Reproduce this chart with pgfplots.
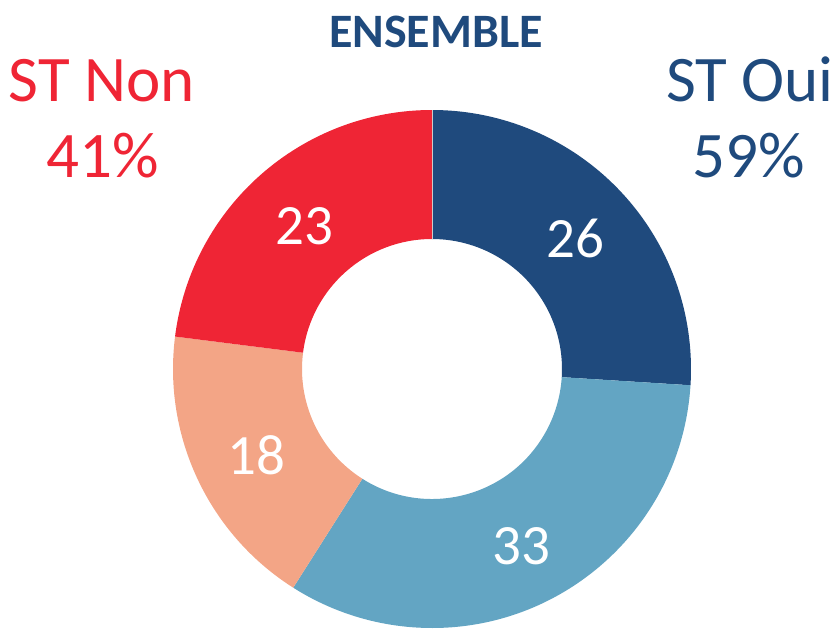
\documentclass[border=0pt]{standalone}
\usepackage{fontspec}
\setmainfont{Carlito}
\usepackage{pgfplots}
\pgfplotsset{compat=1.18}

\definecolor{dblue}{RGB}{31,74,125}
\definecolor{lblue}{RGB}{99,165,195}
\definecolor{salmon}{RGB}{243,165,134}
\definecolor{stred}{RGB}{239,37,53}

% centre (432,259), outer radius 259, inner 130, all in pixel units
% #1 share before this slice, #2 share of the slice, #3 colour
\newcommand{\sector}[3]{%
  \fill[#3] (axis cs:{432+259*cos(90-3.6*#1)},{259+259*sin(90-3.6*#1)})
    arc[start angle={90-3.6*#1}, end angle={90-3.6*(#1+#2)}, radius=259]
    -- (axis cs:{432+130*cos(90-3.6*(#1+#2))},{259+130*sin(90-3.6*(#1+#2))})
    arc[start angle={90-3.6*(#1+#2)}, end angle={90-3.6*#1}, radius=130]
    -- cycle;
  \node[text=white, font=\fontsize{28.5}{30}\selectfont]
    at (axis cs:{433+195*cos(90-3.6*(#1+#2/2))},{256+195*sin(90-3.6*(#1+#2/2))}) {#2};
}

\begin{document}
\begin{tikzpicture}
\begin{axis}[
    name=ax,
    width=417pt, height=314pt,
    scale only axis,
    xmin=0, xmax=834, ymin=0, ymax=628,
    hide axis,
    clip=false,
]
\sector{0}{26}{dblue}
\sector{26}{33}{lblue}
\sector{59}{18}{salmon}
\sector{77}{23}{stred}
\draw[white!60!gray, line width=0.4pt] (axis cs:432,389) -- (axis cs:432,518);

\node[anchor=base, text=dblue, font=\fontsize{24}{26}\selectfont\bfseries] at (axis cs:436,580) {ENSEMBLE};
\node[anchor=base, text=stred, font=\fontsize{32.5}{34}\selectfont] at (axis cs:102,526) {ST Non};
\node[anchor=base, text=stred, font=\fontsize{32.5}{34}\selectfont] at (axis cs:103,451) {41\%};
\node[anchor=base, text=dblue, font=\fontsize{32.5}{34}\selectfont] at (axis cs:750,526) {ST Oui};
\node[anchor=base, text=dblue, font=\fontsize{32.5}{34}\selectfont] at (axis cs:749,451) {59\%};
\end{axis}
\pgfresetboundingbox
\path (ax.south west) rectangle (ax.north east);
\end{tikzpicture}
\end{document}
